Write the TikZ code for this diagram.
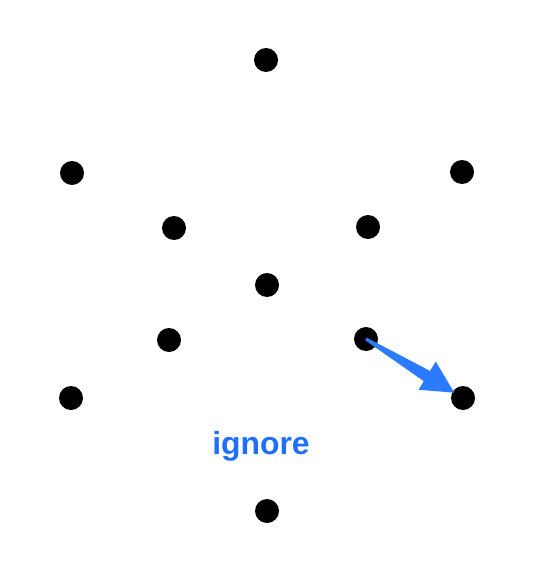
\documentclass[tikz,border=0pt]{standalone}
\usepackage{fontspec}
\setmainfont{Liberation Sans}
\usetikzlibrary{calc}
\definecolor{arrowblue}{HTML}{2A7BFF}
\definecolor{textblue}{HTML}{1F6FFF}
\tikzset{
  dot/.style={circle,fill=black,inner sep=0pt,minimum size=24bp},
  lbl/.style={font=\bfseries\fontsize{32}{38}\selectfont,inner sep=0pt}
}
\begin{document}
\begin{tikzpicture}[x=1bp,y=-1bp]
\useasboundingbox (0,0) rectangle (538,563);
\node[dot] (d1) at (266,60) {};
\node[dot] (d2) at (72,173) {};
\node[dot] (d3) at (462,172) {};
\node[dot] (d4) at (174,228) {};
\node[dot] (d5) at (368,227) {};
\node[dot] (d6) at (267,285) {};
\node[dot] (d7) at (169,340) {};
\node[dot] (d8) at (366,339) {};
\node[dot] (d9) at (71,398) {};
\node[dot] (d10) at (463,398) {};
\node[dot] (d11) at (267,511) {};
% tapered arrow from d8 to d10
\coordinate (tip) at ($(d8.center)!0.91!(d10.center)$);
\coordinate (base) at ($(tip)!32bp!(d8.center)$);
\fill[arrowblue]
  ($(d8.center)!1.5bp!90:(d10.center)$) --
  ($(base)!6bp!-90:(d8.center)$) --
  ($(base)!17bp!-90:(d8.center)$) --
  (tip) --
  ($(base)!16bp!90:(d8.center)$) --
  ($(base)!6bp!90:(d8.center)$) --
  ($(d8.center)!1.5bp!-90:(d10.center)$) -- cycle;
\node[lbl,text=textblue] (t) at (261,446) {ignore};
\end{tikzpicture}
\end{document}
